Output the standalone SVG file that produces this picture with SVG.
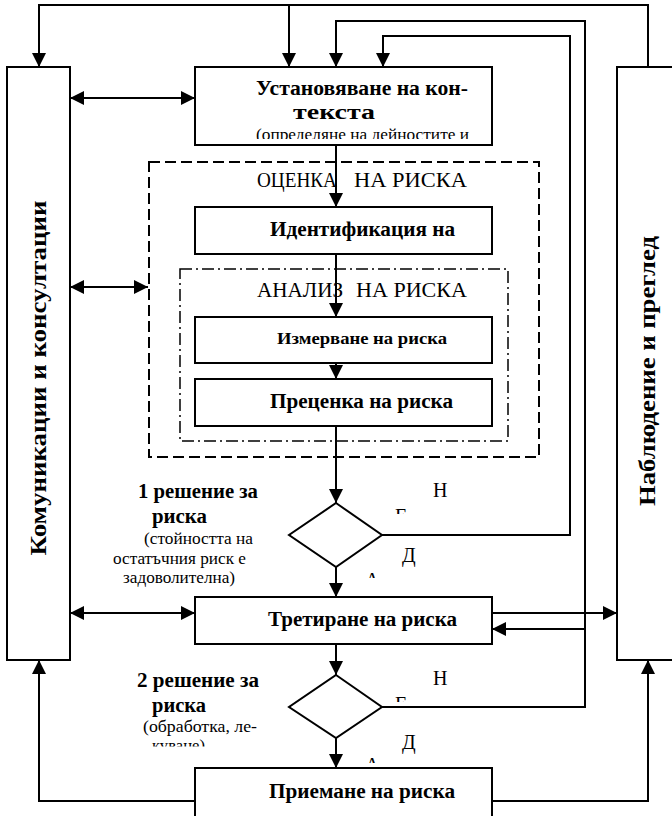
<svg xmlns="http://www.w3.org/2000/svg" width="672" height="816" viewBox="0 0 672 816">
  <style>
    .box { fill: #fff; stroke: #000; stroke-width: 2; }
    .dec { fill: #fff; stroke: #000; stroke-width: 2; }
    .ln { fill: none; stroke: #000; stroke-width: 2; }
    .grp1 { fill: none; stroke: #000; stroke-width: 2; stroke-dasharray: 11 5; }
    .grp2 { fill: none; stroke: #000; stroke-width: 1.5; stroke-dasharray: 12 4 2 4; }
    text { font-family: "Liberation Serif", "Times New Roman", serif; fill: #000; }
    .b { font-weight: bold; font-size: 20px; }
    .bs { font-weight: bold; font-size: 17px; }
    .r { font-size: 17px; }
    .rl { font-size: 20px; }
    .v { font-weight: bold; font-size: 23px; }
  </style>
  <defs>
    <marker id="arrow" viewBox="0 0 14 14" refX="14" refY="7" markerWidth="14" markerHeight="14" markerUnits="userSpaceOnUse" orient="auto-start-reverse">
      <path d="M0,0 L14,7 L0,14 z" fill="#000"/>
    </marker>
    <clipPath id="clipCtx"><rect x="195" y="67" width="297" height="72"/></clipPath>
    <clipPath id="clipDec2"><rect x="100" y="660" width="200" height="86.5"/></clipPath>
    <clipPath id="clipE1"><rect x="390" y="500" width="30" height="14"/></clipPath>
    <clipPath id="clipA1"><rect x="360" y="565" width="30" height="13"/></clipPath>
    <clipPath id="clipE2"><rect x="390" y="688" width="30" height="14"/></clipPath>
    <clipPath id="clipA2"><rect x="360" y="750" width="30" height="13"/></clipPath>
  </defs>

  <!-- grouping frames -->
  <g id="assessment">
    <rect class="grp1" x="149" y="162" width="390" height="295"/>
    <text class="rl" x="257" y="187" textLength="80" lengthAdjust="spacingAndGlyphs">ОЦЕНКА</text>
    <text class="rl" x="354" y="187" textLength="113" lengthAdjust="spacingAndGlyphs">НА РИСКА</text>
  </g>
  <g id="analysis">
    <rect class="grp2" x="180" y="269" width="328" height="172"/>
    <text class="rl" x="257" y="297" textLength="86" lengthAdjust="spacingAndGlyphs">АНАЛИЗ</text>
    <text class="rl" x="356" y="297" textLength="111" lengthAdjust="spacingAndGlyphs">НА РИСКА</text>
  </g>

  <!-- side panels -->
  <g id="communication">
    <rect class="box" x="7" y="67" width="63" height="593"/>
    <text class="v" transform="translate(46,378) rotate(-90)" text-anchor="middle" textLength="355" lengthAdjust="spacingAndGlyphs">Комуникации и консултации</text>
  </g>
  <g id="monitoring">
    <rect class="box" x="617" y="67" width="70" height="593"/>
    <text class="v" transform="translate(655,371) rotate(-90)" text-anchor="middle" textLength="270" lengthAdjust="spacingAndGlyphs">Наблюдение и преглед</text>
  </g>

  <!-- process steps -->
  <g id="context">
    <rect class="box" x="195" y="67" width="297" height="78"/>
    <g clip-path="url(#clipCtx)">
      <text class="b" x="256" y="95" textLength="212" lengthAdjust="spacingAndGlyphs">Установяване на кон-</text>
      <text class="b" x="293" y="119" textLength="82" lengthAdjust="spacingAndGlyphs">текста</text>
      <text class="r" x="256" y="140" textLength="213" lengthAdjust="spacingAndGlyphs">(определяне на дейностите и</text>
    </g>
  </g>
  <g id="identification">
    <rect class="box" x="195" y="207" width="297" height="47"/>
    <text class="b" x="270" y="236" textLength="185" lengthAdjust="spacingAndGlyphs">Идентификация на</text>
  </g>
  <g id="measurement">
    <rect class="box" x="195" y="317" width="297" height="46"/>
    <text class="bs" x="277" y="344" textLength="170" lengthAdjust="spacingAndGlyphs">Измерване на риска</text>
  </g>
  <g id="evaluation">
    <rect class="box" x="195" y="379" width="297" height="47"/>
    <text class="b" x="270" y="408" textLength="183" lengthAdjust="spacingAndGlyphs">Преценка на риска</text>
  </g>
  <g id="decision1">
    <polygon class="dec" points="336,503 382,535 336,567 289,535"/>
    <text class="b" x="138" y="498" textLength="120" lengthAdjust="spacingAndGlyphs">1 решение за</text>
    <text class="b" x="152" y="523" textLength="55" lengthAdjust="spacingAndGlyphs">риска</text>
    <text class="r" x="144" y="544" textLength="109" lengthAdjust="spacingAndGlyphs">(стойността на</text>
    <text class="r" x="113" y="564" textLength="133" lengthAdjust="spacingAndGlyphs">остатъчния риск е</text>
    <text class="r" x="123" y="583" textLength="112" lengthAdjust="spacingAndGlyphs">задоволителна)</text>
    <text class="rl" x="433" y="497">Н</text>
    <text class="rl" x="395" y="523" clip-path="url(#clipE1)">Е</text>
    <text class="rl" x="402" y="562">Д</text>
    <text class="rl" x="365" y="587" clip-path="url(#clipA1)">А</text>
  </g>
  <g id="treatment">
    <rect class="box" x="195" y="597" width="297" height="47"/>
    <text class="b" x="268" y="626" textLength="189" lengthAdjust="spacingAndGlyphs">Третиране на риска</text>
  </g>
  <g id="decision2">
    <polygon class="dec" points="336,675 382,707 336,738 289,707"/>
    <text class="b" x="137" y="687" textLength="122" lengthAdjust="spacingAndGlyphs">2 решение за</text>
    <text class="b" x="152" y="712" textLength="54" lengthAdjust="spacingAndGlyphs">риска</text>
    <g clip-path="url(#clipDec2)">
      <text class="r" x="143" y="732" textLength="114" lengthAdjust="spacingAndGlyphs">(обработка, ле-</text>
      <text class="r" x="152" y="751" textLength="53" lengthAdjust="spacingAndGlyphs">куване)</text>
    </g>
    <text class="rl" x="433" y="685">Н</text>
    <text class="rl" x="395" y="711" clip-path="url(#clipE2)">Е</text>
    <text class="rl" x="402" y="749">Д</text>
    <text class="rl" x="365" y="772" clip-path="url(#clipA2)">А</text>
  </g>
  <g id="acceptance">
    <rect class="box" x="195" y="768" width="297" height="60"/>
    <text class="b" x="269" y="798" textLength="186" lengthAdjust="spacingAndGlyphs">Приемане на риска</text>
  </g>

  <!-- connectors -->
  <g id="connectors">
    <!-- monitoring feedback along the top -->
    <path class="ln" d="M648,67 V5 H39 V67" marker-end="url(#arrow)"/>
    <path class="ln" d="M289,5 V67" marker-end="url(#arrow)"/>
    <!-- loop back from decision 2 -->
    <path class="ln" d="M382,707 H585 V21 H336 V67" marker-end="url(#arrow)"/>
    <path class="ln" d="M585,629 H492" marker-end="url(#arrow)"/>
    <!-- loop back from decision 1 -->
    <path class="ln" d="M382,535 H570 V36 H383 V67" marker-end="url(#arrow)"/>
    <!-- communication links -->
    <path class="ln" d="M70,98 H195" marker-start="url(#arrow)" marker-end="url(#arrow)"/>
    <path class="ln" d="M70,287 H148" marker-start="url(#arrow)" marker-end="url(#arrow)"/>
    <path class="ln" d="M70,613 H195" marker-start="url(#arrow)" marker-end="url(#arrow)"/>
    <path class="ln" d="M492,613 H617" marker-end="url(#arrow)"/>
    <!-- main flow -->
    <path class="ln" d="M336,145 V207" marker-end="url(#arrow)"/>
    <path class="ln" d="M336,254 V317" marker-end="url(#arrow)"/>
    <path class="ln" d="M336,363 V379" marker-end="url(#arrow)"/>
    <path class="ln" d="M336,426 V503" marker-end="url(#arrow)"/>
    <path class="ln" d="M336,567 V597" marker-end="url(#arrow)"/>
    <path class="ln" d="M336,644 V675" marker-end="url(#arrow)"/>
    <path class="ln" d="M336,738 V768" marker-end="url(#arrow)"/>
    <!-- acceptance reported to both side panels -->
    <path class="ln" d="M195,801 H39 V660" marker-end="url(#arrow)"/>
    <path class="ln" d="M492,801 H648 V660" marker-end="url(#arrow)"/>
  </g>
</svg>
